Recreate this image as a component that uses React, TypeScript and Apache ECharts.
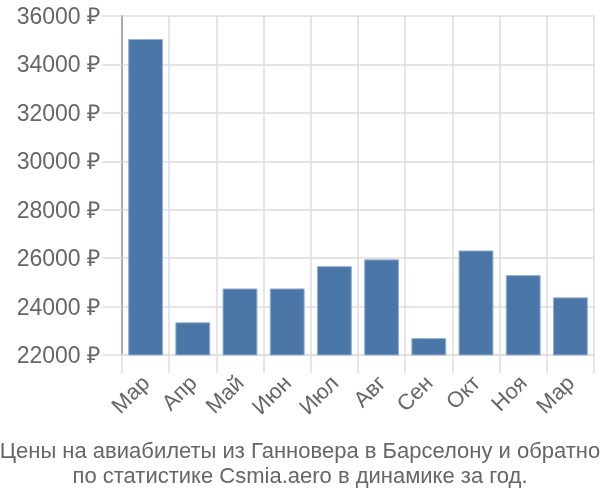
import React, { useEffect, useRef } from "react";
import * as echarts from "echarts";

const months = ["Мар", "Апр", "Май", "Июн", "Июл", "Авг", "Сен", "Окт", "Ноя", "Мар"];
const prices = [35050, 23350, 24750, 24750, 25670, 25950, 22700, 26320, 25300, 24380];
const yMin = 22000;
const yMax = 36000;
const yStep = 2000;
const titleLines = [
  "Цены на авиабилеты из Ганновера в Барселону и обратно",
  "по статистике Csmia.aero в динамике за год.",
];

export default function App() {
  const ref = useRef<HTMLDivElement>(null);
  useEffect(() => {
    if (!ref.current) return;
    const chart = echarts.init(ref.current, undefined, { renderer: "svg" });
    chart.setOption({
      animation: false,
      textStyle: { fontFamily: "'Liberation Sans', Arial, sans-serif" },
      title: {
        text: titleLines.join("\n"),
        left: "center",
        top: 433,
        textStyle: {
          fontSize: 22,
          fontWeight: "normal",
          color: "#666",
          lineHeight: 25,
          fontFamily: "'Liberation Sans', Arial, sans-serif",
        },
      },
      grid: { left: 122, right: 6, top: 16, bottom: 145, containLabel: false },
      xAxis: {
        type: "category",
        data: months,
        axisLine: { show: true, lineStyle: { color: "#ddd", width: 1.5 } },
        axisTick: { show: true, length: 18, lineStyle: { color: "#ddd", width: 1.5 } },
        splitLine: { show: true, lineStyle: { color: "#ddd", width: 1.5 } },
        axisLabel: { rotate: 45, fontSize: 22, color: "#666", margin: 24 },
      },
      yAxis: {
        type: "value",
        min: yMin,
        max: yMax,
        interval: yStep,
        axisLine: { show: true, lineStyle: { color: "#aaa", width: 2 } },
        axisTick: { show: true, length: 20, lineStyle: { color: "#ddd", width: 1.5 } },
        splitLine: { show: true, lineStyle: { color: "#ddd", width: 1.5 } },
        axisLabel: {
          formatter: (v: number) => `${v} ₽`,
          fontSize: 23,
          color: "#666",
          margin: 22,
        },
      },
      series: [
        {
          type: "bar",
          data: prices,
          barCategoryGap: "26%",
          itemStyle: { color: "#4a77a8", borderColor: "#9bb3d3", borderWidth: 1 },
        },
      ],
    });
    return () => chart.dispose();
  }, []);
  return (
    <div
      ref={ref}
      style={{ position: "fixed", left: 0, top: 0, width: 600, height: 500 }}
    />
  );
}
